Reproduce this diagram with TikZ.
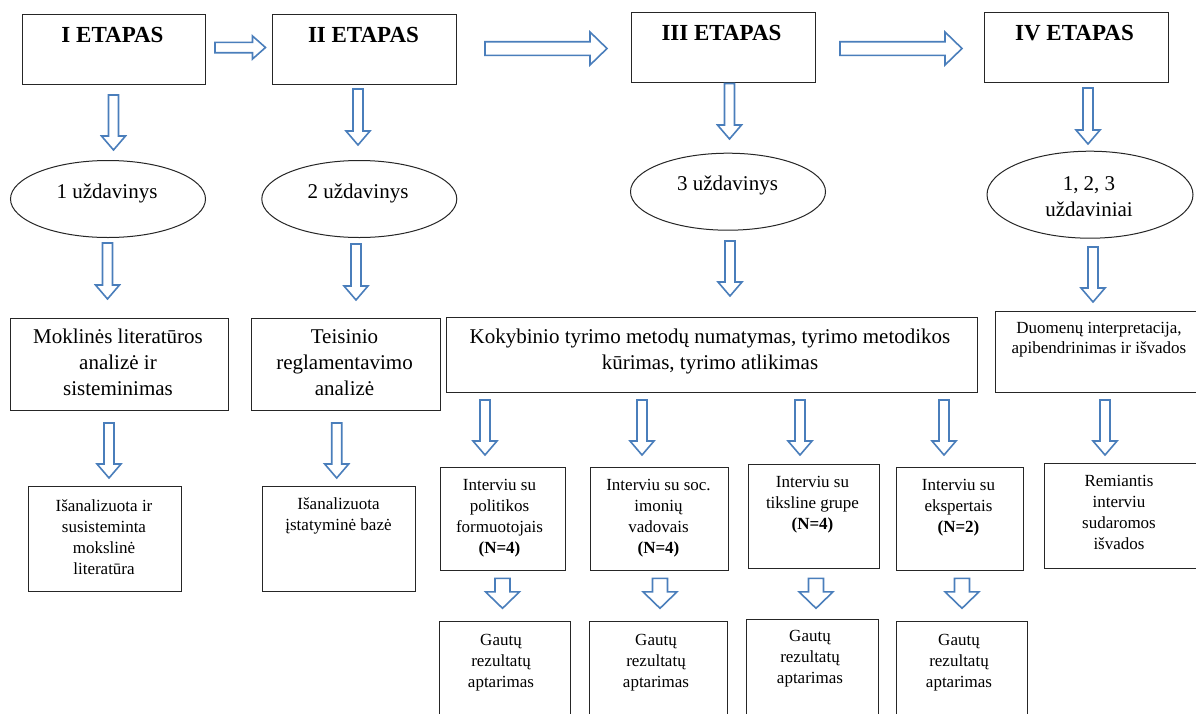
\documentclass[tikz,border=0pt]{standalone}
\usepackage{fontspec}
\setmainfont{Liberation Serif}
\usetikzlibrary{shapes.geometric,calc}
\definecolor{arrblue}{HTML}{4A7EBB}
\tikzset{
  boxst/.style={draw=black!85, line width=1pt, inner sep=0pt, outer sep=0pt},
  ellst/.style={ellipse, draw=black!85, line width=1pt, inner sep=0pt, outer sep=0pt},
  ttl/.style={font=\fontsize{23}{26}\selectfont\bfseries, anchor=base, inner sep=0pt},
  mid/.style={font=\fontsize{21}{26}\selectfont, align=center, anchor=base, inner sep=0pt},
  sml/.style={font=\fontsize{17}{21}\selectfont, align=center, anchor=base, inner sep=0pt},
  barrow/.style={draw=arrblue, line width=1.6pt, fill=white, line join=miter},
}
% box node from corner coordinates (pixel units)
\newcommand\boxnode[5]{%
  \node[boxst, minimum width={#4-#2}, minimum height={#5-#3}] (#1) at ({(#2+#4)/2},{(#3+#5)/2}) {};}
% downward block arrow: x, ytop, ytip, shaft half, head half, head length
\newcommand\dnarr[6]{%
  \draw[barrow] ({#1-#4},#2) -- ({#1+#4},#2) -- ({#1+#4},{#3-#6}) -- ({#1+#5},{#3-#6})
    -- (#1,#3) -- ({#1-#5},{#3-#6}) -- ({#1-#4},{#3-#6}) -- cycle;}
% rightward block arrow: xleft, xtip, y, shaft half, head half, head length
\newcommand\rtarr[6]{%
  \draw[barrow] (#1,{#3-#4}) -- ({#2-#6},{#3-#4}) -- ({#2-#6},{#3-#5}) -- (#2,#3)
    -- ({#2-#6},{#3+#5}) -- ({#2-#6},{#3+#4}) -- (#1,{#3+#4}) -- cycle;}
\begin{document}
\begin{tikzpicture}[x=1pt,y=-1pt]
\useasboundingbox (0,0) rectangle (1196,713);
\clip (0,0) rectangle (1196,713);
\fill[white] (0,0) rectangle (1196,713);

% ---- top stage boxes
\boxnode{t1}{22}{14}{205.5}{84}
\boxnode{t2}{272.5}{14}{456.5}{84}
\boxnode{t3}{631}{12.3}{815}{82.3}
\boxnode{t4}{984}{12.3}{1168}{82.3}
\node[ttl] (t1t) at (112.5,42.7) {I ETAPAS};
\node[ttl] (t2t) at (363.5,42.7) {II ETAPAS};
\node[ttl] (t3t) at (721.5,40.7) {III ETAPAS};
\node[ttl] (t4t) at (1074.5,40.7) {IV ETAPAS};

% ---- horizontal arrows between stages
\rtarr{215}{265.5}{47.5}{5.2}{11.5}{13}
\rtarr{485}{607}{48.5}{6.8}{16.5}{17}
\rtarr{840}{962}{48.5}{6.8}{16.5}{17}

% ---- arrows to tasks
\dnarr{113.5}{95}{150}{5}{12}{14}
\dnarr{358}{89}{145}{5}{12}{14}
\dnarr{729.5}{83.5}{139}{5}{12}{14}
\dnarr{1088}{88}{144}{5}{12}{14}

% ---- task ellipses
\node[ellst, minimum width=195, minimum height=77] (e1) at (108,199) {};
\node[ellst, minimum width=195, minimum height=77] (e2) at (359.3,199) {};
\node[ellst, minimum width=195, minimum height=77] (e3) at (728,191.7) {};
\node[ellst, minimum width=206, minimum height=87] (e4) at (1090,194.7) {};
\node[mid] (e1t) at (107,198.3) {1 uždavinys};
\node[mid] (e2t) at (358,198.3) {2 uždavinys};
\node[mid] (e3t) at (727.5,190.7) {3 uždavinys};
\node[mid] (e4t) at (1089,216.7) {1, 2, 3\\uždaviniai};

% ---- arrows to activities
\dnarr{107.5}{243}{299}{5}{12}{14}
\dnarr{356}{244}{300}{5}{12}{14}
\dnarr{730}{241}{296}{5}{12}{14}
\dnarr{1093}{247}{302}{5}{12}{14}

% ---- activity boxes
\boxnode{m1}{10}{318.3}{228.3}{410}
\boxnode{m2}{251.7}{318.3}{440.7}{410}
\boxnode{m3}{446}{317.7}{977}{392}
\boxnode{m4}{995}{311.7}{1204}{392}
\node[mid] (m1t) at (118,395.3) {Moklinės literatūros\\analizė ir\\sisteminimas};
\node[mid] (m2t) at (344.5,395.3) {Teisinio\\reglamentavimo\\analizė};
\node[mid] (m3t) at (710,369.3) {Kokybinio tyrimo metodų numatymas, tyrimo metodikos\\kūrimas, tyrimo atlikimas};
\node[sml, font=\fontsize{17}{20.5}\selectfont] (m4t) at (1099,353.8) {Duomenų interpretacija,\\apibendrinimas ir išvados};

% ---- arrows to results
\dnarr{109}{423}{478}{5}{12}{14}
\dnarr{336.7}{423}{478}{5}{12}{14}
\dnarr{485}{400}{455}{5}{12}{14}
\dnarr{642}{400}{455}{5}{12}{14}
\dnarr{800}{400}{455}{5}{12}{14}
\dnarr{944}{400}{455}{5}{12}{14}
\dnarr{1105}{400}{455}{5}{12}{14}

% ---- result boxes
\boxnode{b1}{28.3}{486.7}{181.7}{591.7}
\boxnode{b2}{262.3}{486.7}{415.7}{591.7}
\boxnode{i1}{440}{467.3}{565.6}{570.7}
\boxnode{i2}{590.6}{467.3}{728.6}{570.7}
\boxnode{i3}{748}{464.7}{879}{568.7}
\boxnode{i4}{896.5}{467.3}{1023.5}{570.7}
\boxnode{r1}{1044}{463.3}{1200}{568.5}
\node[sml] (b1t) at (104,574) {Išanalizuota ir\\susisteminta\\mokslinė\\literatūra};
\node[sml] (b2t) at (338.5,530.3) {Išanalizuota\\įstatyminė bazė};
\node[sml] (i1t) at (499.5,553) {Interviu su\\politikos\\formuotojais\\\textbf{(N=4)}};
\node[sml] (i2t) at (658.5,553) {Interviu su soc.\\imonių\\vadovais\\\textbf{(N=4)}};
\node[sml] (i3t) at (812.5,529.7) {Interviu su\\tiksline grupe\\\textbf{(N=4)}};
\node[sml] (i4t) at (958.5,532) {Interviu su\\ekspertais\\\textbf{(N=2)}};
\node[sml] (r1t) at (1119,549.7) {Remiantis\\interviu\\sudaromos\\išvados};

% ---- small arrows
\dnarr{502.5}{578.3}{608.3}{7.5}{17}{16.5}
\dnarr{660}{578.3}{608.3}{7.5}{17}{16.5}
\dnarr{816}{578.3}{608.3}{7.5}{17}{16.5}
\dnarr{962}{578.3}{608.3}{7.5}{17}{16.5}

% ---- discussion boxes
\boxnode{g1}{439.6}{621.7}{570.8}{730}
\boxnode{g2}{589.6}{621.7}{727.5}{730}
\boxnode{g3}{746.5}{619.3}{878}{730}
\boxnode{g4}{896}{621.7}{1027}{730}
\node[sml] (g1t) at (501,687) {Gautų\\rezultatų\\aptarimas};
\node[sml] (g2t) at (656,687) {Gautų\\rezultatų\\aptarimas};
\node[sml] (g3t) at (810,683) {Gautų\\rezultatų\\aptarimas};
\node[sml] (g4t) at (959,687) {Gautų\\rezultatų\\aptarimas};
\end{tikzpicture}
\end{document}
